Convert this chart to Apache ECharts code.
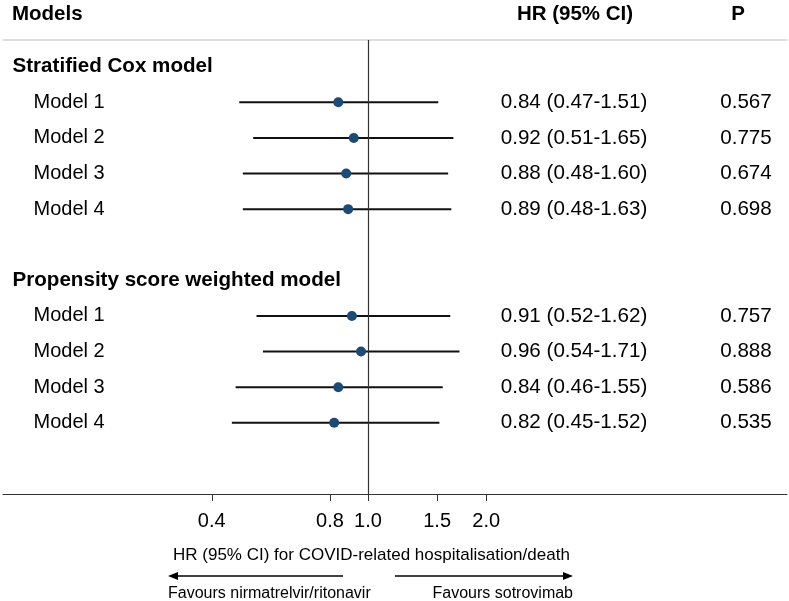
<!DOCTYPE html>
<html>
<head>
<meta charset="utf-8">
<script src="https://cdn.jsdelivr.net/npm/echarts@6/dist/echarts.min.js"></script>
<style>html,body{margin:0;padding:0;background:#fff}#c{width:789px;height:601px}</style>
</head>
<body>
<div id="c"></div>
<script>
// ---- data ----
const groups = ['Stratified Cox model', 'Propensity score weighted model'];
const models = ['Model 1', 'Model 2', 'Model 3', 'Model 4', 'Model 1', 'Model 2', 'Model 3', 'Model 4'];
const hr = [0.84, 0.92, 0.88, 0.89, 0.91, 0.96, 0.84, 0.82];
const lo = [0.47, 0.51, 0.48, 0.48, 0.52, 0.54, 0.46, 0.45];
const hi = [1.51, 1.65, 1.60, 1.63, 1.62, 1.71, 1.55, 1.52];
const pvals = ['0.567', '0.775', '0.674', '0.698', '0.757', '0.888', '0.586', '0.535'];
const xTicks = [0.4, 0.8, 1.0, 1.5, 2.0];
const headers = ['Models', 'HR (95% CI)', 'P'];
const axisTitle = 'HR (95% CI) for COVID-related hospitalisation/death';
const favourLeft = 'Favours nirmatrelvir/ritonavir';
const favourRight = 'Favours sotrovimab';

// ---- layout (rows) ----
const groupRows = [-1, 5];
const modelRows = [0, 1, 2, 3, 6, 7, 8, 9];
const FONT = 'Liberation Sans, Arial, sans-serif';
const GRID_L = 3, GRID_R = 787, GRID_T = 40, GRID_B = 494;
const COL_GROUP = 12, COL_MODEL = 33, COL_HR = 574, COL_P = 746;

const chart = echarts.init(document.getElementById('c'));

const ciData = modelRows.map((r, i) => [lo[i], hi[i], r]);
const ptData = modelRows.map((r, i) => [hr[i], r]);

const textData = [];
groups.forEach((g, i) => textData.push({
  value: [COL_GROUP, groupRows[i]],
  label: { formatter: g, position: 'right', distance: 0, fontWeight: 'bold', fontSize: 20.6 }
}));
models.forEach((m, i) => {
  textData.push({ value: [COL_MODEL, modelRows[i]], label: { formatter: m, position: 'right', distance: 0 } });
  textData.push({ value: [COL_HR, modelRows[i]],
    label: { formatter: hr[i].toFixed(2) + ' (' + lo[i].toFixed(2) + '-' + hi[i].toFixed(2) + ')', position: 'inside', fontSize: 20.6 } });
  textData.push({ value: [COL_P, modelRows[i]], label: { formatter: pvals[i], position: 'inside', fontSize: 20.6 } });
});

// log-axis extent matching the drawing width
const PX_ONE = 368, PX_PER_LN = 170.5;
const xMin = Math.exp((GRID_L - PX_ONE) / PX_PER_LN);
const xMax = Math.exp((GRID_R - PX_ONE) / PX_PER_LN);

const option = {
  animation: false,
  backgroundColor: '#fff',
  textStyle: { fontFamily: FONT },
  grid: { left: GRID_L, right: 789 - GRID_R, top: GRID_T, bottom: 601 - GRID_B, containLabel: false },
  xAxis: [
    {
      type: 'log', min: xMin, max: xMax, position: 'bottom',
      axisLine: { show: true, onZero: false, lineStyle: { color: '#333', width: 1.2 } },
      axisTick: { show: true, customValues: xTicks, length: 7, lineStyle: { color: '#333', width: 1 } },
      axisLabel: { show: true, customValues: xTicks, formatter: v => Number(v).toFixed(1),
        fontSize: 20, color: '#000', margin: 17, fontFamily: FONT },
      splitLine: { show: false }, minorTick: { show: false }
    },
    {
      type: 'value', min: GRID_L, max: GRID_R, position: 'top',
      axisLine: { show: true, onZero: false, lineStyle: { color: '#d4d4d4', width: 1.5 } },
      axisTick: { show: false }, axisLabel: { show: false }, splitLine: { show: false }
    }
  ],
  yAxis: {
    type: 'value', inverse: true, min: -1.75, max: 11, show: false,
    splitLine: { show: false }
  },
  series: [
    {
      type: 'custom', xAxisIndex: 0, data: ciData, silent: true, z: 3,
      renderItem: (params, api) => {
        const a = api.coord([api.value(0), api.value(2)]);
        const b = api.coord([api.value(1), api.value(2)]);
        return { type: 'line', shape: { x1: a[0], y1: a[1], x2: b[0], y2: b[1] },
          style: { stroke: '#111', lineWidth: 2 } };
      }
    },
    {
      type: 'scatter', xAxisIndex: 0, data: ptData, symbol: 'circle', symbolSize: 10, z: 5,
      itemStyle: { color: '#1c4b75', opacity: 1 },
      markLine: {
        silent: true, symbol: 'none', label: { show: false },
        lineStyle: { color: '#333', width: 1.2, type: 'solid' },
        data: [{ xAxis: 1 }]
      }
    },
    {
      type: 'scatter', xAxisIndex: 1, data: textData, symbolSize: 1, silent: true, clip: false,
      itemStyle: { color: 'transparent' },
      label: { show: true, fontSize: 20, color: '#000', textBorderWidth: 0, opacity: 1, fontFamily: FONT }
    }
  ],
  graphic: [
    { type: 'text', x: 12, y: 14, style: { text: headers[0], font: 'bold 20.5px ' + FONT, fill: '#000', align: 'left', verticalAlign: 'middle' } },
    { type: 'text', x: 575, y: 14, style: { text: headers[1], font: 'bold 20.5px ' + FONT, fill: '#000', align: 'center', verticalAlign: 'middle' } },
    { type: 'text', x: 738, y: 14, style: { text: headers[2], font: 'bold 20.5px ' + FONT, fill: '#000', align: 'center', verticalAlign: 'middle' } },
    { type: 'text', x: 173, y: 555, style: { text: axisTitle, font: '17px ' + FONT, fill: '#000', align: 'left', verticalAlign: 'middle' } },
    { type: 'line', shape: { x1: 343, y1: 576, x2: 176, y2: 576 }, style: { stroke: '#000', lineWidth: 1.5 } },
    { type: 'polygon', shape: { points: [[168, 576], [178, 572], [178, 580]] }, style: { fill: '#000' } },
    { type: 'line', shape: { x1: 395, y1: 576, x2: 565, y2: 576 }, style: { stroke: '#000', lineWidth: 1.5 } },
    { type: 'polygon', shape: { points: [[573, 576], [563, 572], [563, 580]] }, style: { fill: '#000' } },
    { type: 'text', x: 168, y: 594, style: { text: favourLeft, font: '16px ' + FONT, fill: '#000', align: 'left', verticalAlign: 'middle' } },
    { type: 'text', x: 573, y: 594, style: { text: favourRight, font: '16px ' + FONT, fill: '#000', align: 'right', verticalAlign: 'middle' } }
  ]
};
chart.setOption(option);
</script>
</body>
</html>
